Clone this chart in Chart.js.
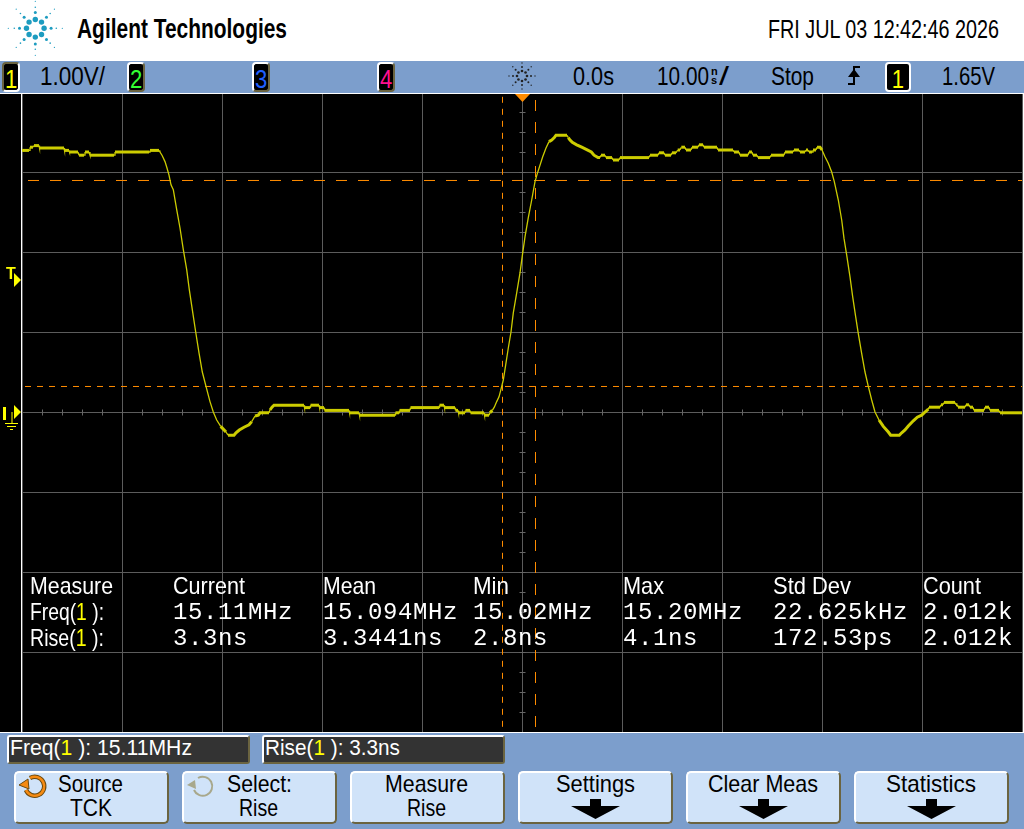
<!DOCTYPE html>
<html>
<head>
<meta charset="utf-8">
<title>Agilent scope capture</title>
<script src="https://cdn.jsdelivr.net/npm/chart.js@4/dist/chart.umd.min.js"></script>
<style>
  html, body { margin: 0; padding: 0; background: #000; }
  #scope { position: relative; width: 1024px; height: 829px; overflow: hidden; font-family: "Liberation Sans", sans-serif; color: #000; }
  canvas { position: absolute; left: 0; top: 0; }
  .abs { position: absolute; white-space: pre; line-height: 1; }
  .fit { transform-origin: left top; }
  #header { position: absolute; left: 0; top: 0; width: 1024px; height: 61px; background: #fff; }
  #topbar { position: absolute; left: 0; top: 61px; width: 1024px; height: 32px; background: #7c9ecc; border-bottom: 1px solid #fff; }
  #bottombar { position: absolute; left: 0; top: 732px; width: 1024px; height: 97px; background: #7c9ecc; border-top: 1px solid #fff; box-sizing: border-box; }
  #frame { position: absolute; left: 21px; top: 94px; width: 1001px; height: 638px; border-left: 1px solid #fff; border-right: 1px solid #fff; }
  .badge { position: absolute; top: 62px; width: 14px; height: 26px; background: #000; border: 2px solid; border-radius: 4px; }
  .badge span { position: absolute; left: 0; right: 0; top: 2px; font-size: 26px; line-height: 1; text-align: center; transform: scaleX(0.85); }
  .readout { position: absolute; top: 735px; height: 25px; width: 239px; background: #333; border: 2px solid; border-color: #fff #6b6440 #6b6440 #fff; border-radius: 3px; }
  .btn { position: absolute; top: 771px; width: 151px; height: 49px; background: #d0e3f9; border: 2px solid; border-color: #fff #6b6440 #6b6440 #fff; border-radius: 5px; }
  .lbl { font-size: 24px; }
  .wht { color: #fff; }
  .val { color: #fff; font-family: "Liberation Mono", monospace; font-size: 24px; letter-spacing: 0.6px; }
  .y { color: #ffff00; }
  .bar { font-size: 25px; }
</style>
</head>
<body>
<div id="scope">
  <canvas id="plot" width="1024" height="829"></canvas>
  <div id="frame"></div>
  <div id="header"></div>
  <div id="topbar"></div>
  <div id="bottombar"></div>
  <svg id="logo" class="abs" style="left:0;top:0" width="70" height="60"></svg>
  <div class="abs fit" data-w="210" style="left:77px;top:16px;font-size:27px;font-weight:bold;">Agilent Technologies</div>
  <div class="abs fit" data-w="231" style="left:768px;top:17px;font-size:25px;">FRI JUL 03 12:42:46 2026</div>

  <div class="badge" style="left:2px;color:#ffff00;border-color:#6b6440 #fff #fff #6b6440"><span>1</span></div>
  <div class="badge" style="left:127px;color:#33ff33;border-color:#fff #6b6440 #6b6440 #fff"><span>2</span></div>
  <div class="badge" style="left:252px;color:#2060ff;border-color:#fff #6b6440 #6b6440 #fff"><span>3</span></div>
  <div class="badge" style="left:377px;color:#ff1090;border-color:#fff #6b6440 #6b6440 #fff"><span>4</span></div>
  <div class="badge" style="left:885px;width:22px;color:#ffff00;border-color:#fff"><span>1</span></div>
  <div class="abs bar fit" data-w="65" style="left:40px;top:64px">1.00V/</div>
  <svg id="trigstar" class="abs" style="left:508px;top:62px" width="28" height="28"></svg>
  <div class="abs bar fit" data-w="41" style="left:573px;top:64px">0.0s</div>
  <div class="abs bar fit" data-w="52" style="left:657px;top:64px">10.00</div>
  <div class="abs" style="left:711px;top:66px;font-size:11px;font-weight:bold;">n</div>
  <div class="abs" style="left:711px;top:75px;font-size:11px;font-weight:bold;">s</div>
  <div class="abs bar fit" data-w="10" style="left:719px;top:64px">/</div>
  <div class="abs bar fit" data-w="43" style="left:771px;top:64px">Stop</div>
  <svg class="abs" style="left:846px;top:64px" width="16" height="22">
    <path d="M2 20 H8 V3 H14" fill="none" stroke="#000" stroke-width="2"/>
    <path d="M2 13 L14 13 L8 5 Z" fill="#000"/>
  </svg>
  <div class="abs bar fit" data-w="53" style="left:942px;top:64px">1.65V</div>

  <svg class="abs" style="left:0;top:262px" width="24" height="30">
    <text x="6" y="17" font-size="16" font-weight="bold" fill="#ffff00" font-family="Liberation Sans">T</text>
    <path d="M14 11 L21 18 L14 25 Z" fill="#ffff00"/>
  </svg>
  <svg class="abs" style="left:0;top:402px" width="24" height="30">
    <path d="M3 5 H6 V18 H3 Z M14 3 L21 10 L14 17 Z" fill="#ffff00"/>
    <path d="M12 10 V21 M5 21.5 H18 M7 24.5 H16 M10 27.5 H13" stroke="#ffff00" stroke-width="1" fill="none"/>
  </svg>
  <svg class="abs" style="left:512px;top:94px" width="20" height="10">
    <path d="M3 0 H18 L10.5 8 Z" fill="#ff8c00"/>
  </svg>

  <div id="measure"></div>

  <div class="readout" style="left:7px"></div>
  <div class="readout" style="left:262px"></div>
  <div class="abs lbl wht fit" data-w="182" style="left:10px;top:737px;font-size:22px">Freq(<span class="y">1</span> ): 15.11MHz</div>
  <div class="abs lbl wht fit" data-w="135" style="left:265px;top:737px;font-size:22px">Rise(<span class="y">1</span> ): 3.3ns</div>

  <div class="btn" style="left:14px"></div>
  <div class="btn" style="left:182px"></div>
  <div class="btn" style="left:350px"></div>
  <div class="btn" style="left:518px"></div>
  <div class="btn" style="left:686px"></div>
  <div class="btn" style="left:854px"></div>
  <div class="abs lbl fit" data-w="65" style="left:58px;top:772px">Source</div>
  <div class="abs lbl fit" data-w="42" style="left:70px;top:796px">TCK</div>
  <div class="abs lbl fit" data-w="65" style="left:227px;top:772px">Select:</div>
  <div class="abs lbl fit" data-w="39" style="left:239px;top:796px">Rise</div>
  <div class="abs lbl fit" data-w="83" style="left:385px;top:772px">Measure</div>
  <div class="abs lbl fit" data-w="39" style="left:407px;top:796px">Rise</div>
  <div class="abs lbl fit" data-w="79" style="left:556px;top:772px">Settings</div>
  <div class="abs lbl fit" data-w="110" style="left:708px;top:772px">Clear Meas</div>
  <div class="abs lbl fit" data-w="90" style="left:886px;top:772px">Statistics</div>
  <svg class="abs" style="left:571px;top:799px" width="50" height="21"><path d="M19 0 H30 V7 H49 L24.5 20 L0 7 H19 Z" fill="#000"/></svg>
  <svg class="abs" style="left:739px;top:799px" width="50" height="21"><path d="M19 0 H30 V7 H49 L24.5 20 L0 7 H19 Z" fill="#000"/></svg>
  <svg class="abs" style="left:907px;top:799px" width="50" height="21"><path d="M19 0 H30 V7 H49 L24.5 20 L0 7 H19 Z" fill="#000"/></svg>

  <svg class="abs" style="left:18px;top:773px" width="30" height="26">
    <path d="M12 5 A9.5 9.5 0 1 1 8 17" fill="none" stroke="#6b4a10" stroke-width="4.5"/>
    <path d="M12 5 A9.5 9.5 0 1 1 8 17" fill="none" stroke="#f58a12" stroke-width="2.5"/>
    <path d="M1 12 L10 6 L11 16 Z" fill="#f58a12" stroke="#6b4a10" stroke-width="1"/>
  </svg>
  <svg class="abs" style="left:186px;top:773px" width="30" height="26">
    <path d="M12 5 A9.5 9.5 0 1 1 8 17" fill="none" stroke="#a8a88c" stroke-width="2"/>
    <path d="M1 12 L9 7 L10 16 Z" fill="#a8a88c"/>
  </svg>
</div>

<script>
// trace: time in ns, channel 1 in volts
const timeNs = [
  -50, -49.3, -49.2, -48.9, -48.8, -48.3, -48.25, -45.8, -45.75, -45.3, -45.25, -44.4, -44.3, -43.8, -43.7, -43.3,
  -43.2, -40.8, -40.7, -37.3, -37.2, -36.3, -36.2, -36, -35.7, -35.5, -35.3, -35.1, -34.87, -34.53, -34.2, -33.87,
  -33.53, -33.27, -32.97, -32.63, -32.3, -31.97, -31.6, -31.2, -30.87, -30.53, -30.13, -29.6, -29.4, -28.8, -28.6, -28.27,
  -27.8, -27.3, -27.03, -26.7, -26.37, -26.2, -25.3, -25.2, -25, -24.8, -21.8, -21.75, -21.2, -21.15, -20.3, -20.25,
  -19.8, -19.75, -17.3, -17.25, -16.3, -16.25, -12.7, -12.65, -12.3, -12.25, -11.2, -11.15, -8.3, -8.25, -7.8, -7.75,
  -6.7, -6.65, -6.4, -6.35, -5.7, -5.65, -5.2, -5.15, -3.8, -3.75, -3.3, -3.2, -2.97, -2.77, -2.53, -2.3,
  -2.13, -1.87, -1.63, -1.37, -1.1, -0.87, -0.53, -0.2, 0.07, 0.3, 0.63, 0.97, 1.3, 1.53, 2.07, 2.4,
  2.7, 2.97, 3.23, 3.4, 4.5, 4.63, 4.8, 5.03, 5.47, 5.97, 6.47, 6.93, 7.2, 7.6, 7.8, 7.9,
  8.3, 8.4, 9, 9.1, 9.7, 9.8, 12.7, 12.8, 13.6, 13.7, 14.2, 14.3, 14.9, 15, 15.4, 15.57,
  15.8, 15.93, 16.3, 16.4, 16.9, 17, 17.6, 17.7, 18.1, 18.2, 19.5, 19.6, 21.1, 21.2, 21.7, 21.8,
  22.6, 22.7, 23, 23.1, 23.5, 23.6, 24.8, 24.9, 26.2, 26.3, 27.1, 27.2, 27.7, 27.8, 28.3, 28.4,
  28.6, 28.7, 29, 29.1, 29.4, 29.5, 29.8, 30, 30.3, 30.63, 30.97, 31.23, 31.63, 31.97, 32.2, 32.47,
  32.8, 33.07, 33.37, 33.63, 33.97, 34.3, 34.63, 34.97, 35.3, 35.7, 36.13, 36.63, 36.87, 37.73, 37.97, 38.3,
  38.63, 39.13, 39.53, 39.97, 40.3, 40.63, 40.7, 41.8, 41.9, 42.1, 42.2, 43.3, 43.4, 43.55, 43.6, 44.3,
  44.4, 44.7, 44.8, 45.1, 45.2, 46.2, 46.3, 46.7, 46.8, 47.7, 47.8, 50
];
const channel1 = [
  3.27, 3.27, 3.31, 3.31, 3.33, 3.33, 3.3, 3.3, 3.27, 3.27, 3.25, 3.25, 3.21, 3.21, 3.25, 3.25,
  3.21, 3.21, 3.25, 3.25, 3.27, 3.27, 3.25, 3.21, 3.13, 3.05, 2.96, 2.84, 2.78, 2.53, 2.3, 2.03,
  1.78, 1.53, 1.28, 1, 0.74, 0.5, 0.32, 0.13, 0, -0.1, -0.18, -0.25, -0.29, -0.29, -0.26, -0.225,
  -0.19, -0.16, -0.12, -0.05, -0.04, -0.01, -0.01, 0.025, 0.06, 0.085, 0.085, 0.055, 0.055, 0.085, 0.085, 0.055,
  0.055, 0.02, 0.02, -0.01, -0.01, -0.04, -0.04, -0.01, -0.01, 0.02, 0.02, 0.055, 0.055, 0.085, 0.085, 0.055,
  0.055, 0.02, 0.02, -0.01, -0.01, 0.02, 0.02, -0.01, -0.01, -0.04, -0.04, -0.01, 0.02, 0.06, 0.13, 0.19,
  0.27, 0.4, 0.59, 0.8, 1, 1.24, 1.49, 1.74, 1.99, 2.19, 2.43, 2.65, 2.88, 2.98, 3.19, 3.3,
  3.38, 3.4, 3.43, 3.46, 3.46, 3.43, 3.4, 3.37, 3.34, 3.31, 3.28, 3.25, 3.21, 3.18, 3.18, 3.21,
  3.21, 3.18, 3.18, 3.15, 3.15, 3.18, 3.18, 3.21, 3.21, 3.24, 3.24, 3.21, 3.21, 3.24, 3.24, 3.275,
  3.275, 3.31, 3.31, 3.275, 3.275, 3.31, 3.31, 3.34, 3.34, 3.31, 3.31, 3.275, 3.275, 3.25, 3.25, 3.21,
  3.21, 3.25, 3.25, 3.21, 3.21, 3.18, 3.18, 3.21, 3.21, 3.25, 3.25, 3.275, 3.275, 3.25, 3.25, 3.275,
  3.275, 3.25, 3.25, 3.275, 3.275, 3.31, 3.31, 3.275, 3.19, 3.11, 3, 2.88, 2.65, 2.4, 2.17, 1.96,
  1.69, 1.44, 1.19, 0.98, 0.73, 0.5, 0.32, 0.15, 0, -0.1, -0.18, -0.25, -0.29, -0.29, -0.26, -0.225,
  -0.175, -0.11, -0.065, -0.04, 0, 0.035, 0.06, 0.06, 0.09, 0.09, 0.12, 0.12, 0.09, 0.09, 0.06, 0.06,
  0.09, 0.09, 0.06, 0.06, 0.02, 0.02, 0.06, 0.06, 0.02, 0.02, -0.01, -0.01
];

// cursors: X1/X2 in ns, Y1/Y2 in volts
const cursorTimes = [-1.95, 1.35];
const cursorVolts = [0.319, 2.894];

// axes: 10 ns/div, 1 V/div
const timeRange = [-50, 50];
const voltRange = [-4, 4];

const measureHeaders = ['Measure', 'Current', 'Mean', 'Min', 'Max', 'Std Dev', 'Count'];
const freqRow = ['15.11MHz', '15.094MHz', '15.02MHz', '15.20MHz', '22.625kHz', '2.012k'];
const riseRow = ['3.3ns', '3.3441ns', '2.8ns', '4.1ns', '172.53ps', '2.012k'];

const points = timeNs.map(function(t, i) { return { x: t, y: channel1[i] }; });

// the centre axes carry small ticks
const centreTicks = {
  id: 'centreTicks',
  beforeDatasetsDraw: function(chart) {
    const ctx = chart.ctx;
    const xs = chart.scales.x;
    const ys = chart.scales.y;
    const x0 = Math.round(xs.getPixelForValue(0)) + 0.5;
    const y0 = Math.round(ys.getPixelForValue(0)) + 0.5;
    ctx.save();
    ctx.strokeStyle = '#666';
    ctx.lineWidth = 1;
    ctx.beginPath();
    for (let t = -48; t < 50; t += 2) {
      const px = Math.round(xs.getPixelForValue(t)) + 0.5;
      ctx.moveTo(px, y0 - 3);
      ctx.lineTo(px, y0 + 3);
    }
    for (let v = -3.75; v < 4; v += 0.25) {
      const py = Math.round(ys.getPixelForValue(v)) + 0.5;
      ctx.moveTo(x0 - 3, py);
      ctx.lineTo(x0 + 3, py);
    }
    ctx.stroke();
    ctx.restore();
  }
};

new Chart(document.getElementById('plot').getContext('2d'), {
  type: 'line',
  data: {
    datasets: [
      {
        data: points,
        borderColor: '#cccc00',
        borderWidth: 3,
        pointRadius: 0,
        tension: 0,
        segment: {
          // flat stretches show up thick on the scope, the edges stay thin
          borderWidth: function(c) {
            const dx = Math.abs(c.p1.x - c.p0.x);
            const dy = Math.abs(c.p1.y - c.p0.y);
            return dy > dx * 1.5 ? 1.3 : 3;
          }
        }
      },
      { data: [{ x: -49.7, y: cursorVolts[0] }, { x: 50, y: cursorVolts[0] }], borderColor: '#ff8c00', borderWidth: 1, borderDash: [6, 6], pointRadius: 0 },
      { data: [{ x: -49.4, y: cursorVolts[1] }, { x: 50, y: cursorVolts[1] }], borderColor: '#ff8c00', borderWidth: 1, borderDash: [11, 11], pointRadius: 0 },
      { data: [{ x: cursorTimes[0], y: 3.94 }, { x: cursorTimes[0], y: -4 }], borderColor: '#ff8c00', borderWidth: 1, borderDash: [6, 6], pointRadius: 0 },
      { data: [{ x: cursorTimes[1], y: 3.9 }, { x: cursorTimes[1], y: -4 }], borderColor: '#ff8c00', borderWidth: 1, borderDash: [11, 11], pointRadius: 0 }
    ]
  },
  options: {
    responsive: false,
    animation: false,
    layout: { padding: { left: 22, right: 2, top: 92, bottom: 97 } },
    plugins: { legend: { display: false }, tooltip: { enabled: false } },
    scales: {
      x: {
        type: 'linear',
        min: timeRange[0],
        max: timeRange[1],
        grid: { color: '#5c5c5c', lineWidth: 1, drawTicks: false },
        border: { display: false },
        ticks: { display: false, stepSize: 10 }
      },
      y: {
        min: voltRange[0],
        max: voltRange[1],
        grid: { color: '#5c5c5c', lineWidth: 1, drawTicks: false },
        border: { display: false },
        ticks: { display: false, stepSize: 1 }
      }
    }
  },
  plugins: [centreTicks]
});

// measurement table, real text over the graticule
const colX = [30, 173, 323, 473, 623, 773, 923];
const headWidths = [83, 72, 53, 36, 41, 78, 58];
const box = document.getElementById('measure');
function addText(cls, left, top, html, width) {
  const d = document.createElement('div');
  d.className = 'abs ' + cls;
  d.style.left = left + 'px';
  d.style.top = top + 'px';
  if (width) d.dataset.w = width;
  d.innerHTML = html;
  box.appendChild(d);
}
measureHeaders.forEach(function(h, i) { addText('lbl wht fit', colX[i], 574, h, headWidths[i]); });
addText('lbl wht fit', colX[0], 600, 'Freq(<span class="y">1</span> ):', 74);
addText('lbl wht fit', colX[0], 626, 'Rise(<span class="y">1</span> ):', 74);
freqRow.forEach(function(v, i) { addText('val', colX[i + 1], 601, v); });
riseRow.forEach(function(v, i) { addText('val', colX[i + 1], 627, v); });

// the scope's font is narrower than anything installed, squeeze to the measured widths
document.querySelectorAll('.fit').forEach(function(el) {
  el.style.transform = 'scaleX(' + (el.dataset.w / el.getBoundingClientRect().width) + ')';
});

// sunburst logos
function drawStar(svgId, cx, cy, rings, fill) {
  const svg = document.getElementById(svgId);
  let s = '';
  rings.forEach(function(ring) {
    for (let a = 0; a < 8; a++) {
      const ang = a * Math.PI / 4;
      s += '<circle cx="' + (cx + ring[0] * Math.cos(ang)) + '" cy="' + (cy + ring[0] * Math.sin(ang)) + '" r="' + ring[1] + '" fill="' + fill + '"/>';
    }
  });
  svg.innerHTML = s;
}
drawStar('logo', 35.3, 28.3, [[8.8, 2.7], [15.8, 1.5], [21, 0.8], [27, 0.6]], '#1d9cc0');
drawStar('trigstar', 14, 14, [[5, 1.3], [9, 1], [13, 0.7]], '#222');
</script>
</body>
</html>
